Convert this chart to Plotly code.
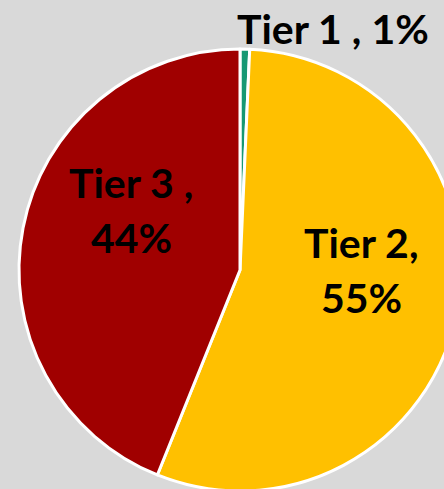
import plotly.graph_objects as go

# slice data
tiers = ["Tier 1", "Tier 2", "Tier 3"]
shares = [0.7, 55.4, 43.9]
label_lines = [["Tier 1 , 1%"], ["Tier 2,", "55%"], ["Tier 3 ,", "44%"]]
slice_colors = ["#169873", "#ffc000", "#a00000"]

W, H = 461, 491

# label anchor points in page pixels (x center, y center of each line)
label_pos = [
    [(333, 28)],
    [(361, 242), (361, 297)],
    [(131, 182), (131, 237)],
]

fig = go.Figure(
    go.Pie(
        labels=tiers,
        values=shares,
        sort=False,
        direction="clockwise",
        rotation=0,
        marker=dict(colors=slice_colors, line=dict(color="white", width=3)),
        textinfo="none",
        hoverinfo="label+percent",
        domain=dict(x=[19 / W, 1], y=[0, 442 / H]),
    )
)

for lines, pos in zip(label_lines, label_pos):
    for txt, (px_, py_) in zip(lines, pos):
        fig.add_annotation(
            text=txt,
            x=px_ / W,
            y=1 - py_ / H,
            xref="paper",
            yref="paper",
            xanchor="center",
            yanchor="middle",
            showarrow=False,
            font=dict(family="Lato", size=41, color="black", weight="bold"),
        )

fig.update_layout(
    width=W,
    height=H,
    margin=dict(l=0, r=0, t=0, b=0),
    paper_bgcolor="#d9d9d9",
    plot_bgcolor="#d9d9d9",
    showlegend=False,
)

fig.write_html(
    "out.html",
    config={"displayModeBar": False},
    post_script="document.body.style.margin='0';document.body.style.overflow='hidden';",
)
